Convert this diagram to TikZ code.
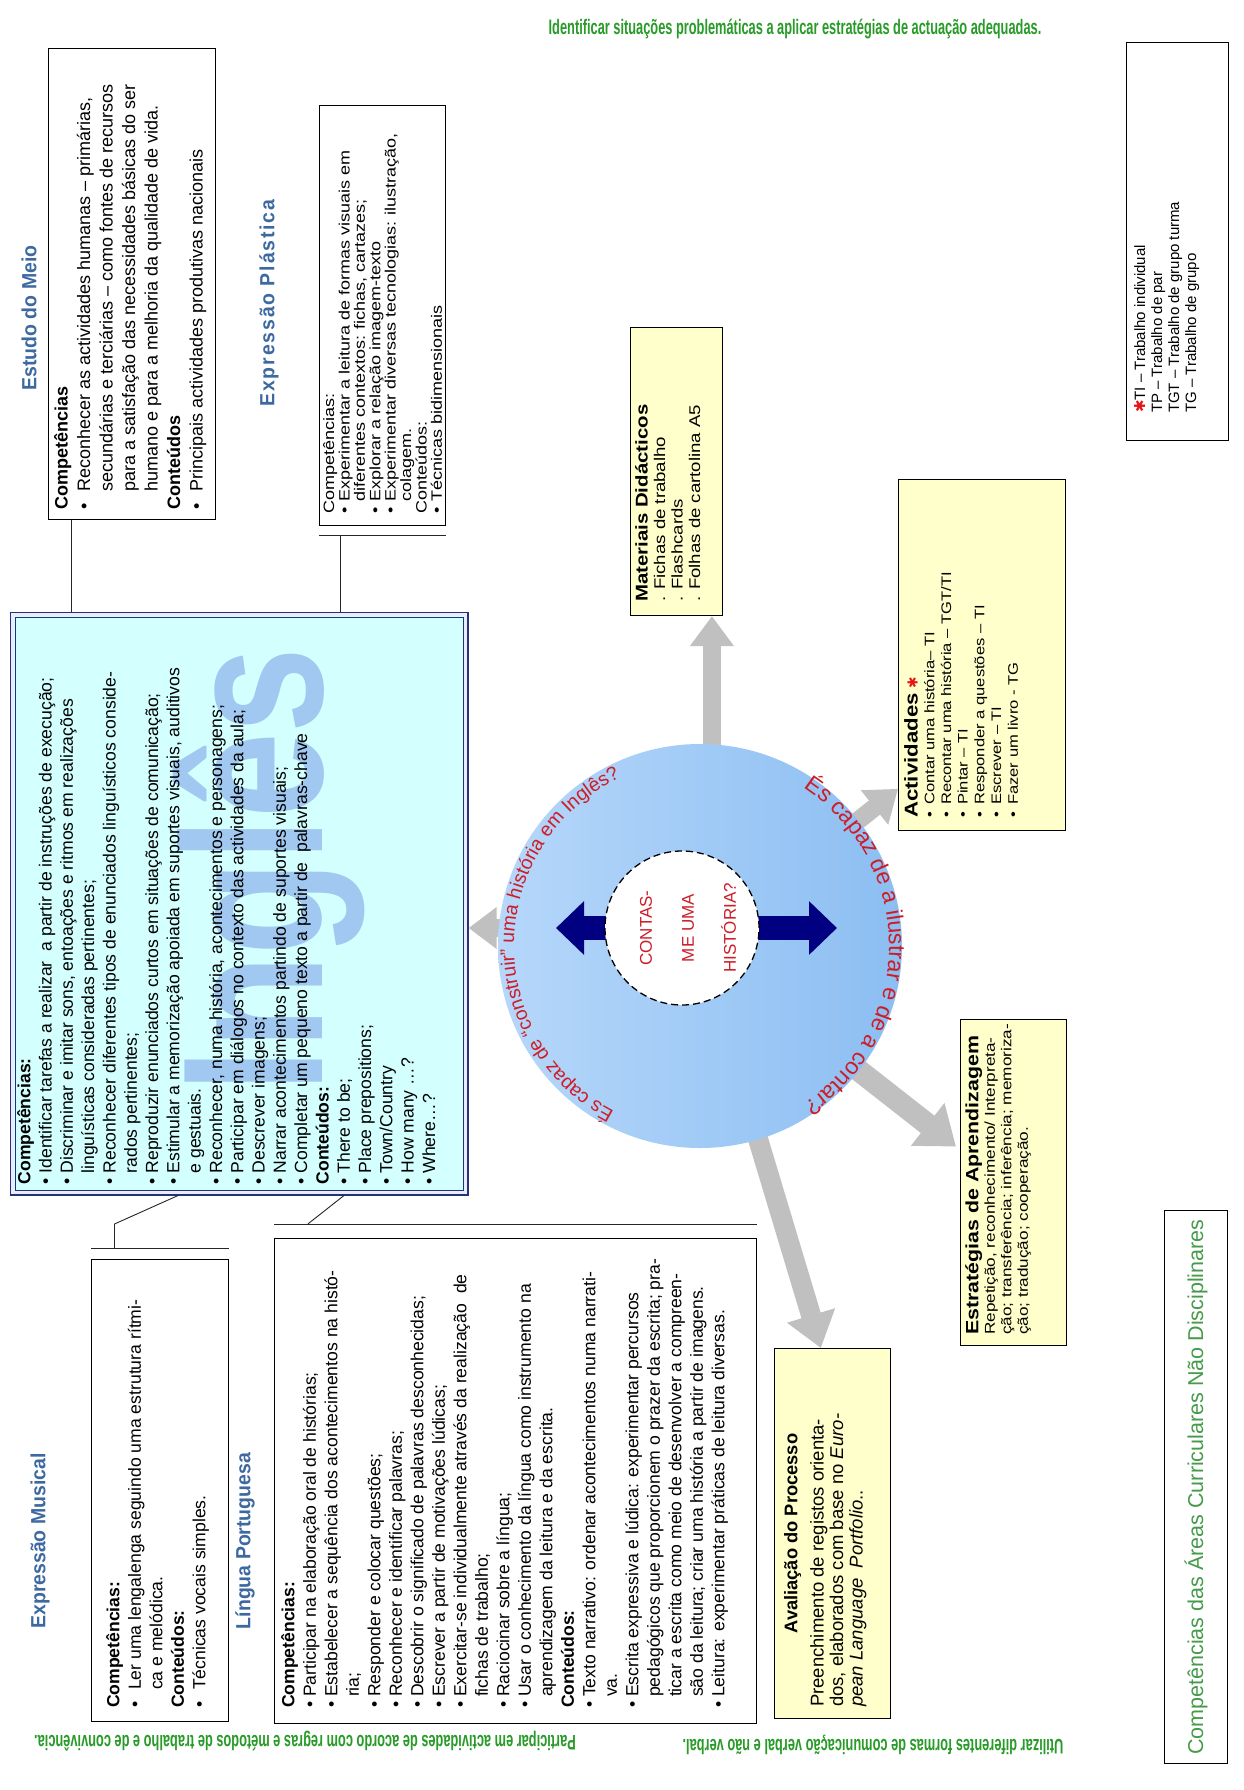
\documentclass[tikz,border=0pt]{standalone}
\usepackage{fontspec}
\setmainfont{Liberation Sans}
\newfontfamily\widefont{Liberation Sans}[FakeStretch=1.2]
\newfontfamily\headfont{Liberation Sans}[FakeStretch=0.95]
\newfontfamily\narrowfont{Liberation Sans}[FakeStretch=0.61]
\newfontfamily\markfont{Liberation Sans}[FakeStretch=0.77]
\newfontfamily\symbolfont{DejaVu Sans}
\usetikzlibrary{arrows.meta,decorations.text,calc}

\definecolor{titleblue}{RGB}{62,105,160}
\definecolor{boxcyan}{RGB}{212,255,255}
\definecolor{framegap}{RGB}{232,236,252}
\definecolor{boxyellow}{RGB}{255,255,204}
\definecolor{framenavy}{RGB}{38,50,120}
\definecolor{arrowgray}{RGB}{192,192,192}
\definecolor{darknavy}{RGB}{0,0,128}
\definecolor{storyred}{RGB}{205,30,40}
\definecolor{starred}{RGB}{230,20,20}
\definecolor{areagreen}{RGB}{40,155,40}
\definecolor{softgreen}{RGB}{70,155,75}
\definecolor{circleleft}{RGB}{182,215,250}
\definecolor{circleright}{RGB}{140,190,242}
\definecolor{markblue}{RGB}{160,200,240}

% bullet of a given width, and the matching indent for wrapped lines
\newcommand\bitem[1]{\makebox[#1][l]{•}}
\newcommand\cont[1]{\hspace*{#1}}
\newcommand\redstar{{\symbolfont\color{starred}✱}}

\begin{document}
\begin{tikzpicture}[x=1pt,y=-1pt,
  box/.style={draw=black,line width=1.1pt,inner sep=0pt,anchor=north west},
  yellowbox/.style={box,fill=boxyellow},
  vtext/.style={rotate=90,anchor=north west,align=left,inner sep=0pt},
  heading/.style={rotate=90,inner sep=0pt,text=titleblue,font=\headfont\fontsize{20.5}{21}\selectfont\bfseries},
  callout/.style={draw=black!85,line width=0.9pt},
  grayarrow/.style={draw=arrowgray,line width=#1},
  areatext/.style={inner sep=0pt,text=areagreen,font=\narrowfont\fontsize{21}{22}\selectfont\bfseries},
]
\fill[white] (0,0) rectangle (1243,1790);

% ---------- frames ----------
\node[box,minimum width=167pt,minimum height=471pt] (estudo) at (48,48) {};
\node[box,minimum width=126pt,minimum height=420pt] (plastica) at (319,105) {};
\node[yellowbox,minimum width=92pt,minimum height=288pt] (materiais) at (630,327) {};
\node[box,minimum width=102pt,minimum height=398pt] (legenda) at (1126,42) {};
\node[box,draw=framenavy,line width=2.6pt,fill=boxcyan,minimum width=456pt,minimum height=581pt] (ingles) at (10,612) {};
\node[yellowbox,minimum width=167pt,minimum height=351pt] (activ) at (898,479) {};
\node[yellowbox,minimum width=106pt,minimum height=326pt] (estrat) at (960,1019) {};
\node[yellowbox,minimum width=116pt,minimum height=370pt] (aval) at (774,1348) {};
\node[box,minimum width=137pt,minimum height=462pt] (musical) at (91,1259) {};
\node[box,minimum width=482pt,minimum height=485pt] (portugues) at (274,1238) {};
\node[box,minimum width=63pt,minimum height=553pt] (areas) at (1164,1210) {};

% double frame of the English box
\draw[framegap,line width=3pt] ([shift={(2.9,2.9)}]ingles.north west) rectangle ([shift={(-2.9,-2.9)}]ingles.south east);
\draw[framenavy,line width=1pt] ([shift={(5,5)}]ingles.north west) rectangle ([shift={(-5,-5)}]ingles.south east);
\node[rotate=90,anchor=base,text=markblue,font=\markfont\fontsize{200}{200}\selectfont\bfseries,inner sep=0pt] (mark) at (322,870) {Inglês};

% ---------- callout lines ----------
\coordinate (estudoFoot) at ($(estudo.south west)!0.14!(estudo.south east)$);
\draw[callout] (estudoFoot) -- (estudoFoot |- ingles.north);
\coordinate (plasticaBarL) at ($(plastica.south west)+(0,9)$);
\coordinate (plasticaBarR) at ($(plastica.south east)+(0,9)$);
\coordinate (plasticaFoot) at ($(plasticaBarL)!0.17!(plasticaBarR)$);
\draw[callout] (plasticaBarL) -- (plasticaBarR);
\draw[callout] (plasticaFoot) -- (plasticaFoot |- ingles.north);
\coordinate (musicalBarL) at ($(musical.north west)+(0,-11)$);
\coordinate (musicalBarR) at ($(musical.north east)+(0,-11)$);
\coordinate (musicalKnee) at ($(musicalBarL)!0.17!(musicalBarR)$);
\coordinate (musicalTop) at ($(ingles.south west)!0.366!(ingles.south east)$);
\draw[callout] (musicalBarL) -- (musicalBarR);
\draw[callout] (musicalKnee) -- ++(0,-24) -- (musicalTop);
\coordinate (portBarL) at ($(portugues.north west)+(0,-14)$);
\coordinate (portBarR) at ($(portugues.north east)+(0,-14)$);
\coordinate (portKnee) at ($(portBarL)!0.07!(portBarR)$);
\coordinate (portTop) at ($(ingles.south west)!0.728!(ingles.south east)$);
\draw[callout] (portBarL) -- (portBarR);
\draw[callout] (portKnee) -- (portTop);

% ---------- titles ----------
\node[heading] (estudotitle) at (29,318) {Estudo do Meio};
\node[heading,font=\headfont\fontsize{20.5}{21}\selectfont\bfseries\addfontfeature{LetterSpace=9}] (plasticatitle) at (269,303) {Expressão Plástica};
\node[heading] (musicaltitle) at (40,1541) {Expressão Musical};
\node[heading] (portuguestitle) at (245,1541) {Língua Portuguesa};

% ---------- box texts ----------
\node[vtext,font=\fontsize{18}{22.5}\selectfont] (estudotext) at ($(estudo.south west)+(6,-10)$) {%
\textbf{Competências}\\
\bitem{18pt}Reconhecer as actividades humanas – primárias,\\
\cont{18pt}secundárias e terciárias – como fontes de recursos\\
\cont{18pt}para a satisfação das necessidades básicas do ser\\
\cont{18pt}humano e para a melhoria da qualidade de vida.\\
\textbf{Conteúdos}\\
\bitem{18pt}Principais actividades produtivas nacionais};

\node[vtext,font=\widefont\fontsize{15}{15.4}\selectfont] (plasticatext) at ($(plastica.south west)+(4,-12)$) {%
Competências:\\
\bitem{12pt}Experimentar a leitura de formas visuais em\\
\cont{12pt}diferentes contextos: fichas, cartazes;\\
\bitem{12pt}Explorar a relação imagem-texto\\
\bitem{12pt}Experimentar diversas tecnologias: ilustração,\\
\cont{12pt}colagem.\\
Conteúdos:\\
\bitem{12pt}Técnicas bidimensionais};

\node[vtext,font=\widefont\fontsize{15.5}{17.5}\selectfont] (materiaistext) at ($(materiais.south west)+(5,-14)$) {%
{\fontsize{17}{17.5}\selectfont\bfseries Materiais Didácticos}\\
. Fichas de trabalho\\
. Flashcards\\
. Folhas de cartolina A5};

\node[vtext,font=\fontsize{15}{17}\selectfont] (legendtext) at ($(legenda.south west)+(8,-28)$) {%
\redstar TI – Trabalho individual\\
TP – Trabalho de par\\
TGT – Trabalho de grupo turma\\
TG – Trabalho de grupo};

\node[vtext,font=\fontsize{17.6}{21.3}\selectfont] (inglestext) at ($(ingles.south west)+(7,-11)$) {%
\textbf{Competências:}\\
\bitem{11pt}Identificar tarefas a realizar \ a partir de instruções de execução;\\
\bitem{11pt}Discriminar e imitar sons, entoações e ritmos em realizações\\
\cont{11pt}linguísticas consideradas pertinentes;\\
\bitem{11pt}Reconhecer diferentes tipos de enunciados linguísticos conside-\\
\cont{11pt}rados pertinentes;\\
\bitem{11pt}Reproduzir enunciados curtos em situações de comunicação;\\
\bitem{11pt}Estimular a memorização apoiada em suportes visuais, auditivos\\
\cont{11pt}e gestuais.\\
\bitem{11pt}Reconhecer, numa história, acontecimentos e personagens;\\
\bitem{11pt}Participar em diálogos no contexto das actividades da aula;\\
\bitem{11pt}Descrever imagens;\\
\bitem{11pt}Narrar acontecimentos partindo de suportes visuais;\\
\bitem{11pt}Completar um pequeno texto a partir de \ palavras-chave\\
\textbf{Conteúdos:}\\
\bitem{11pt}There to be;\\
\bitem{11pt}Place prepositions;\\
\bitem{11pt}Town/Country\\
\bitem{11pt}How many …?\\
\bitem{11pt}Where…?};

\node[vtext,font=\widefont\fontsize{13.8}{16.7}\selectfont] (activtext) at ($(activ.south west)+(6,-13)$) {%
{\fontsize{18.5}{16.7}\selectfont\bfseries Actividades} \redstar\\
\bitem{13pt}Contar uma história– TI\\
\bitem{13pt}Recontar uma história – TGT/TI\\
\bitem{13pt}Pintar – TI\\
\bitem{13pt}Responder a questões – TI\\
\bitem{13pt}Escrever – TI\\
\bitem{13pt}Fazer um livro - TG};

\node[vtext,font=\widefont\fontsize{14.3}{16.5}\selectfont] (estrattext) at ($(estrat.south west)+(5,-11)$) {%
{\fontsize{17.8}{16.5}\selectfont\bfseries Estratégias de Aprendizagem}\\
Repetição, reconhecimento/ Interpreta-\\
ção; transferência; inferência; memoriza-\\
ção; tradução; cooperação.};

\node[rotate=90,anchor=north,inner sep=0pt,font=\fontsize{18.3}{19}\selectfont\bfseries] (avaltitle) at ($(aval.north west)!0.5!(aval.south west)+(10,0)$) {Avaliação do Processo};
\node[vtext,font=\fontsize{18.5}{19.5}\selectfont] (avaltext) at ($(aval.south west)+(36,-12)$) {%
Preenchimento de registos orienta-\\
dos, elaborados com base no \textit{Euro-}\\
\textit{pean Language \ Portfolio}..};

\node[vtext,font=\fontsize{17.6}{21.5}\selectfont] (musicaltext) at ($(musical.south west)+(15,-14)$) {%
\textbf{Competências:}\\
\bitem{18pt}Ler uma lengalenga seguindo uma estrutura rítmi-\\
\cont{18pt}ca e melódica.\\
\textbf{Conteúdos:}\\
\bitem{18pt}Técnicas vocais simples.};

\node[vtext,font=\fontsize{17.6}{21.5}\selectfont] (portuguestext) at ($(portugues.south west)+(7,-16)$) {%
\textbf{Competências:}\\
\bitem{11pt}Participar na elaboração oral de histórias;\\
\bitem{11pt}Estabelecer a sequência dos acontecimentos na histó-\\
\cont{11pt}ria;\\
\bitem{11pt}Responder e colocar questões;\\
\bitem{11pt}Reconhecer e identificar palavras;\\
\bitem{11pt}Descobrir o significado de palavras desconhecidas;\\
\bitem{11pt}Escrever a partir de motivações lúdicas;\\
\bitem{11pt}Exercitar-se individualmente através da realização \ de\\
\cont{11pt}fichas de trabalho;\\
\bitem{11pt}Raciocinar sobre a língua;\\
\bitem{11pt}Usar o conhecimento da língua como instrumento na\\
\cont{11pt}aprendizagem da leitura e da escrita.\\
\textbf{Conteúdos:}\\
\bitem{11pt}Texto narrativo: ordenar acontecimentos numa narrati-\\
\cont{11pt}va.\\
\bitem{11pt}Escrita expressiva e lúdica: experimentar percursos\\
\cont{11pt}pedagógicos que proporcionem o prazer da escrita; pra-\\
\cont{11pt}ticar a escrita como meio de desenvolver a compreen-\\
\cont{11pt}são da leitura; criar uma história a partir de imagens.\\
\bitem{11pt}Leitura: experimentar práticas de leitura diversas.};

% ---------- central circle and its arrows ----------
\coordinate (storyC) at (700,946);
\coordinate (coreC) at (682,928);
\coordinate (tipM) at ($(materiais.south west)!0.88!(materiais.south east)$);
\coordinate (tipA) at ($(activ.north west)!0.88!(activ.south west)$);
\coordinate (tipE) at ($(estrat.north west)!0.39!(estrat.south west)+(-4,0)$);
\coordinate (tipV) at ($(aval.north west)!0.40!(aval.north east)$);
\draw[grayarrow=18pt,-{Triangle[width=42pt,length=30pt]}] (storyC -| tipM) -- (tipM);
\draw[grayarrow=18pt,-{Triangle[width=42pt,length=30pt]}] (storyC) -- (tipA);
\draw[grayarrow=22pt,-{Triangle[width=52pt,length=36pt]}] (storyC) -- (tipE);
\draw[grayarrow=20pt,-{Triangle[width=48pt,length=34pt]}] (storyC) -- (tipV);
\draw[grayarrow=18pt,-{Triangle[width=40pt,length=28pt]}] (coreC) -- (ingles.east |- coreC);

\node[circle,minimum size=404pt,inner sep=0pt,left color=circleleft,right color=circleright] (story) at (storyC) {};
\coordinate (navyL) at ($(coreC)+(-126,0)$);
\coordinate (navyR) at ($(coreC)+(155,0)$);
\draw[darknavy,line width=24pt,-{Triangle[width=52pt,length=28pt]}] (coreC) -- (navyL);
\draw[darknavy,line width=24pt,-{Triangle[width=52pt,length=28pt]}] (coreC) -- (navyR);
\node[circle,draw=black,dash pattern=on 7pt off 4pt,line width=1.3pt,fill=white,minimum size=154pt,inner sep=0pt] (core) at (coreC) {};
\node[rotate=90,align=center,text=storyred,font=\fontsize{17}{42}\selectfont] (coretext) at ($(core.center)+(6,0)$) {CONTAS-\\ME UMA\\HISTÓRIA?};

\begin{scope}[shift={(story.center)},y=1pt]
\path[decorate,decoration={text along path,text align=center,
  text={|\fontsize{19.5}{21}\selectfont\color{storyred}|És capaz de “construir” uma história em Inglês?}}]
  (246:186) arc[start angle=246,end angle=112,radius=186];
\path[decorate,decoration={text along path,text align=center,
  text={|\fontsize{23}{25}\selectfont\color{storyred}|És capaz de a ilustrar e de a contar?}}]
  (64:189) arc[start angle=64,end angle=-64,radius=189];
\end{scope}

% ---------- cross-curricular competences ----------
\node[areatext] (goalTop) at (795,29) {Identificar situações problemáticas a aplicar estratégias de actuação adequadas.};
\node[areatext,rotate=180] (goalLeft) at (305,1741) {Participar em actividades de acordo com regras e métodos de trabalho e de convivência.};
\node[areatext,rotate=180] (goalMid) at (873,1745) {Utilizar diferentes formas de comunicação verbal e não verbal.};
\node[rotate=90,inner sep=0pt,text=softgreen,font=\fontsize{21.5}{22}\selectfont] (areastext) at (areas.center) {Competências das Áreas Curriculares Não Disciplinares};
\end{tikzpicture}
\end{document}
